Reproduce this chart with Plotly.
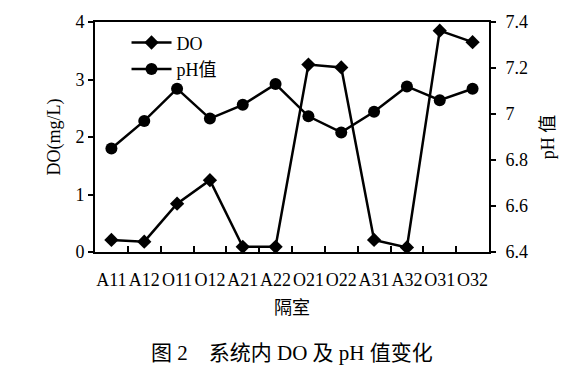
import plotly.graph_objects as go

categories = ["A11", "A12", "O11", "O12", "A21", "A22", "O21", "O22", "A31", "A32", "O31", "O32"]
do_values = [0.21, 0.18, 0.84, 1.25, 0.09, 0.09, 3.26, 3.21, 0.21, 0.08, 3.85, 3.65]
ph_values = [6.85, 6.97, 7.11, 6.98, 7.04, 7.13, 6.99, 6.92, 7.01, 7.12, 7.06, 7.11]
left_ticks = [0, 1, 2, 3, 4]
right_ticks = [6.4, 6.6, 6.8, 7.0, 7.2, 7.4]
right_tick_text = ["6.4", "6.6", "6.8", "7", "7.2", "7.4"]

serif = "Liberation Serif, Times New Roman, serif"
cjk = "Liberation Serif, Noto Sans CJK SC, serif"

fig = go.Figure()
fig.add_trace(go.Scatter(
    x=categories, y=do_values, name="DO", mode="lines+markers",
    line=dict(color="black", width=2.5),
    marker=dict(symbol="diamond", size=11, color="black"),
))
fig.add_trace(go.Scatter(
    x=categories, y=ph_values, name="pH值", mode="lines+markers", yaxis="y2",
    line=dict(color="black", width=2.5),
    marker=dict(symbol="circle", size=12, color="black"),
))

fig.update_layout(
    width=567, height=368,
    margin=dict(l=95, r=73, t=21, b=116),
    paper_bgcolor="white", plot_bgcolor="white",
    font=dict(family=cjk, size=17, color="black"),
    showlegend=True,
    legend=dict(x=0.08, y=0.99, xanchor="left", yanchor="top",
                bgcolor="rgba(0,0,0,0)", font=dict(family=cjk, size=18),
                tracegroupgap=4, itemwidth=40),
    xaxis=dict(
        type="category", range=[-0.5, 11.5], tickangle=0,
        showline=True, linecolor="black", linewidth=2, mirror=True,
        ticks="inside", ticklen=6, tickwidth=1.5, tickcolor="black",
        tickson="boundaries", showgrid=False, zeroline=False,
        tickfont=dict(family=serif, size=18), ticklabelstandoff=10,
        title=dict(text="隔室", font=dict(family=cjk, size=18), standoff=13),
    ),
    yaxis=dict(
        range=[0, 4], tickvals=left_ticks,
        showline=True, linecolor="black", linewidth=2,
        ticks="outside", ticklen=5, tickwidth=1.5, tickcolor="black",
        showgrid=False, zeroline=False,
        tickfont=dict(family=serif, size=18),
        title=dict(text="DO(mg/L)", font=dict(family=serif, size=18), standoff=10),
    ),
    yaxis2=dict(
        range=[6.4, 7.4], tickvals=right_ticks, ticktext=right_tick_text,
        overlaying="y", side="right",
        showline=True, linecolor="black", linewidth=2,
        ticks="outside", ticklen=5, tickwidth=1.5, tickcolor="black",
        showgrid=False, zeroline=False,
        tickfont=dict(family=serif, size=18), ticklabelstandoff=6,
        title=dict(text="pH 值", font=dict(family=cjk, size=18), standoff=14),
    ),
    annotations=[dict(
        text="图 2　系统内 DO 及 pH 值变化", x=0.5, y=0, xref="paper", yref="paper",
        xanchor="center", yanchor="middle", yshift=-101,
        showarrow=False, font=dict(family=cjk, size=21),
    )],
)

fig.write_html("out.html")
